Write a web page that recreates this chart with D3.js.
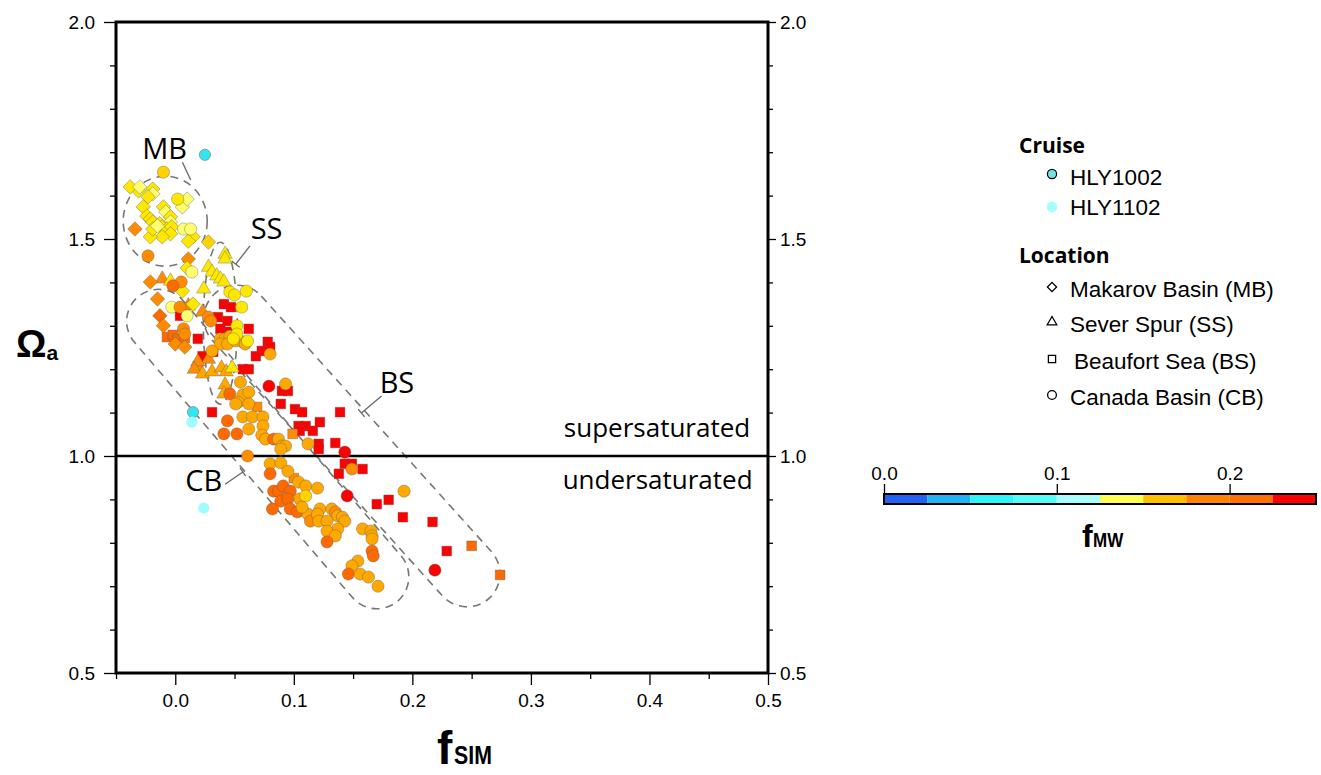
<!DOCTYPE html>
<html>
<head>
<meta charset="utf-8">
<script src="https://cdn.jsdelivr.net/npm/d3@7"></script>
<style>
body { margin: 0; background: #fff; }
text { font-family: "Liberation Sans", Arial, sans-serif; }
.axis path { display: none; }
.axis line { stroke: #000; stroke-width: 1.3; }
.axis text { font-size: 19px; fill: #000; }
.note { font-family: "Open Sans", "Noto Sans", sans-serif; }
</style>
</head>
<body>
<svg id="chart" width="1321" height="775"></svg>
<script>
// [fSIM, Omega_a, fMW]
var diamondPts = [
    [-0.031, 1.611, 0.14], [-0.019, 1.615, 0.14], [-0.019, 1.604, 0.12], [-0.023, 1.597, 0.14],
    [-0.027, 1.574, 0.14], [-0.024, 1.553, 0.14], [-0.021, 1.546, 0.14], [-0.019, 1.539, 0.14],
    [-0.010, 1.574, 0.14], [-0.008, 1.562, 0.12], [-0.004, 1.551, 0.14], [-0.004, 1.539, 0.12],
    [-0.013, 1.535, 0.14], [-0.011, 1.528, 0.14], [-0.007, 1.523, 0.14], [-0.003, 1.528, 0.14],
    [-0.004, 1.512, 0.14], [-0.011, 1.505, 0.14], [-0.021, 1.505, 0.14], [-0.019, 1.523, 0.14],
    [-0.015, 1.530, 0.12], [0.006, 1.574, 0.12], [0.010, 1.592, 0.12], [0.015, 1.505, 0.14],
    [0.011, 1.495, 0.14], [0.028, 1.493, 0.15], [-0.034, 1.523, 0.18], [0.011, 1.454, 0.18],
    [-0.038, 1.620, 0.14], [-0.030, 1.620, 0.12], [0.010, 1.433, 0.14], [-0.021, 1.401, 0.18],
    [0.006, 1.380, 0.14], [-0.015, 1.362, 0.18], [0.015, 1.350, 0.14], [-0.013, 1.323, 0.20],
    [-0.010, 1.300, 0.18], [0.000, 1.258, 0.18], [0.008, 1.251, 0.18]
];
var trianglePts = [
    [0.042, 1.465, 0.14], [0.042, 1.454, 0.14], [0.028, 1.435, 0.14], [0.031, 1.424, 0.14],
    [0.035, 1.415, 0.14], [0.038, 1.408, 0.14], [0.041, 1.401, 0.14], [0.024, 1.385, 0.14],
    [-0.011, 1.408, 0.18], [-0.004, 1.403, 0.14], [0.011, 1.346, 0.18], [0.023, 1.332, 0.18],
    [0.028, 1.223, 0.18], [0.019, 1.217, 0.18], [0.016, 1.200, 0.18], [0.023, 1.189, 0.165],
    [0.031, 1.194, 0.165], [0.039, 1.203, 0.165], [0.043, 1.194, 0.165], [0.048, 1.203, 0.14],
    [0.042, 1.164, 0.165], [0.041, 1.143, 0.165]
];
var squarePts = [
    [0.041, 1.350, 0.225], [0.047, 1.343, 0.225], [0.036, 1.320, 0.225], [0.044, 1.311, 0.225],
    [0.038, 1.293, 0.225], [0.046, 1.286, 0.225], [0.062, 1.293, 0.225], [0.004, 1.323, 0.225],
    [0.019, 1.270, 0.225], [0.023, 1.230, 0.225], [0.032, 1.240, 0.225], [0.078, 1.263, 0.225],
    [0.080, 1.251, 0.225], [0.073, 1.242, 0.225], [0.068, 1.230, 0.225], [0.057, 1.200, 0.225],
    [0.062, 1.200, 0.225], [0.090, 1.150, 0.225], [0.095, 1.150, 0.225], [0.089, 1.120, 0.225],
    [0.101, 1.108, 0.225], [0.107, 1.101, 0.225], [0.139, 1.101, 0.225], [0.031, 1.101, 0.225],
    [0.104, 1.069, 0.225], [0.110, 1.069, 0.225], [0.105, 1.058, 0.225], [0.116, 1.058, 0.225],
    [0.122, 1.078, 0.225], [0.121, 1.028, 0.225], [0.121, 1.016, 0.225], [0.135, 1.030, 0.225],
    [0.143, 0.982, 0.225], [0.149, 0.982, 0.225], [0.158, 0.970, 0.225], [0.138, 0.959, 0.225],
    [0.170, 0.889, 0.225], [0.180, 0.899, 0.225], [0.192, 0.859, 0.225], [0.217, 0.848, 0.225],
    [0.229, 0.781, 0.225],
    [-0.007, 1.274, 0.20], [-0.002, 1.279, 0.20], [0.002, 1.270, 0.20], [0.008, 1.272, 0.20],
    [0.019, 1.207, 0.18], [0.069, 1.113, 0.18], [0.099, 1.051, 0.18], [0.100, 0.949, 0.18],
    [0.250, 0.793, 0.20], [0.274, 0.726, 0.20]
];
var circlePts = [
    [-0.010, 1.654, 0.15], [0.002, 1.592, 0.14], [0.007, 1.523, 0.12], [0.013, 1.523, 0.12],
    [-0.023, 1.461, 0.18], [0.014, 1.424, 0.12], [0.005, 1.401, 0.18], [-0.002, 1.392, 0.20],
    [0.046, 1.378, 0.14], [0.050, 1.371, 0.14], [0.060, 1.380, 0.14], [-0.003, 1.343, 0.12],
    [0.004, 1.343, 0.18], [0.010, 1.323, 0.12], [0.028, 1.320, 0.18], [0.030, 1.311, 0.18],
    [0.056, 1.343, 0.14], [0.052, 1.300, 0.14], [0.007, 1.293, 0.18], [0.008, 1.281, 0.18],
    [0.038, 1.270, 0.165], [0.042, 1.270, 0.165], [0.046, 1.276, 0.165], [0.038, 1.258, 0.165],
    [0.044, 1.258, 0.165], [0.051, 1.265, 0.165], [0.057, 1.263, 0.165], [0.059, 1.258, 0.165],
    [0.052, 1.281, 0.14], [0.049, 1.270, 0.14], [0.061, 1.265, 0.14], [0.031, 1.242, 0.165],
    [0.080, 1.235, 0.165], [0.055, 1.170, 0.165], [0.079, 1.161, 0.225], [0.093, 1.166, 0.165],
    [0.046, 1.143, 0.20], [0.057, 1.141, 0.165], [0.062, 1.147, 0.165], [0.053, 1.124, 0.165],
    [0.062, 1.120, 0.165], [0.051, 1.120, 0.165], [0.044, 1.081, 0.20], [0.057, 1.090, 0.165],
    [0.065, 1.090, 0.165], [0.074, 1.090, 0.165], [0.074, 1.069, 0.165], [0.062, 1.062, 0.165],
    [0.052, 1.051, 0.20], [0.041, 1.051, 0.20], [0.073, 1.048, 0.165], [0.076, 1.039, 0.165],
    [0.083, 1.039, 0.20], [0.087, 1.039, 0.165], [0.090, 1.023, 0.165], [0.093, 1.023, 0.165],
    [0.089, 1.016, 0.165], [0.112, 1.028, 0.165], [0.143, 1.009, 0.225], [0.061, 1.000, 0.18],
    [0.080, 0.982, 0.165], [0.089, 0.984, 0.165], [0.095, 0.965, 0.165], [0.080, 0.959, 0.20],
    [0.149, 0.970, 0.18], [0.104, 0.940, 0.165], [0.110, 0.931, 0.165], [0.120, 0.926, 0.165],
    [0.083, 0.919, 0.20], [0.087, 0.919, 0.20], [0.091, 0.931, 0.20], [0.097, 0.919, 0.20],
    [0.105, 0.901, 0.165], [0.110, 0.908, 0.15], [0.089, 0.896, 0.20], [0.095, 0.901, 0.20],
    [0.082, 0.878, 0.20], [0.097, 0.878, 0.20], [0.103, 0.871, 0.20], [0.112, 0.866, 0.165],
    [0.107, 0.882, 0.165], [0.114, 0.850, 0.18], [0.122, 0.878, 0.165], [0.120, 0.866, 0.165],
    [0.121, 0.850, 0.165], [0.132, 0.878, 0.165], [0.135, 0.871, 0.18], [0.137, 0.862, 0.165],
    [0.141, 0.859, 0.165], [0.143, 0.850, 0.165], [0.128, 0.850, 0.165], [0.137, 0.832, 0.165],
    [0.128, 0.827, 0.165], [0.135, 0.816, 0.165], [0.128, 0.802, 0.20], [0.158, 0.832, 0.165],
    [0.165, 0.827, 0.165], [0.166, 0.816, 0.165], [0.166, 0.809, 0.165], [0.166, 0.781, 0.20],
    [0.167, 0.770, 0.20], [0.154, 0.758, 0.165], [0.149, 0.747, 0.165], [0.146, 0.728, 0.20],
    [0.156, 0.728, 0.165], [0.163, 0.721, 0.165], [0.171, 0.700, 0.165], [0.145, 0.908, 0.225],
    [0.193, 0.919, 0.165], [0.219, 0.737, 0.225]
];
// cruise-coloured points [fSIM, Omega_a]
var hly1002Pts = [[0.025, 1.694], [0.015, 1.101]];
var hly1102Pts = [[0.014, 1.078], [0.024, 0.880]];

var xMajor = [0.0, 0.1, 0.2, 0.3, 0.4, 0.5];
var xMinor = [-0.05, 0.05, 0.15, 0.25, 0.35, 0.45];
var yMajor = [0.5, 1.0, 1.5, 2.0];
var yMinor = [0.6, 0.7, 0.8, 0.9, 1.1, 1.2, 1.3, 1.4, 1.6, 1.7, 1.8, 1.9];

var fmwBins = [0, 0.025, 0.05, 0.075, 0.1, 0.125, 0.15, 0.175, 0.2, 0.225, 0.25];
var fmwBinColors = ["#2462f2", "#22b2f6", "#2ef6f8", "#55fcfa", "#a6feff",
                    "#ffff52", "#ffc000", "#ff8200", "#ff7000", "#ff0000"];
var fmwTicks = [0.0, 0.1, 0.2];

var cruiseNames = ["HLY1002", "HLY1102"];
var locationNames = ["Makarov Basin (MB)", "Sever Spur (SS)", "Beaufort Sea (BS)", "Canada Basin (CB)"];

var svg = d3.select("#chart");
var x = d3.scaleLinear().domain([-0.05, 0.5]).range([116, 768]);
var y = d3.scaleLinear().domain([0.5, 2.0]).range([673, 22]);

var pointColor = d3.scaleLinear()
    .domain([0.12, 0.14, 0.15, 0.165, 0.18, 0.20, 0.225])
    .range(["#ffff70", "#ffe800", "#ffd200", "#ffa800", "#ff8c00", "#ff6a00", "#ff0000"])
    .clamp(true);

// axes
function addAxis(gen, tx, ty) {
    return svg.append("g").attr("class", "axis")
        .attr("transform", "translate(" + tx + "," + ty + ")")
        .call(gen);
}
var fmt = d3.format(".1f");
addAxis(d3.axisBottom(x).tickValues(xMinor).tickSize(6).tickFormat(""), 0, 673);
addAxis(d3.axisBottom(x).tickValues(xMajor).tickSize(12).tickPadding(9).tickFormat(fmt), 0, 673);
addAxis(d3.axisLeft(y).tickValues(yMinor).tickSize(6).tickFormat(""), 116, 0);
addAxis(d3.axisLeft(y).tickValues(yMajor).tickSize(12).tickPadding(9).tickFormat(fmt), 116, 0);
addAxis(d3.axisRight(y).tickValues(yMinor).tickSize(5).tickFormat(""), 768, 0);
addAxis(d3.axisRight(y).tickValues(yMajor).tickSize(8).tickPadding(4).tickFormat(fmt), 768, 0);

// region outlines
var dash = {stroke: "#777", width: 1.6, array: "8,6"};
function ellipse(cx, cy, rx, ry) {
    svg.append("ellipse")
        .attr("cx", x(cx)).attr("cy", y(cy)).attr("rx", rx).attr("ry", ry)
        .attr("fill", "none").attr("stroke", dash.stroke)
        .attr("stroke-width", dash.width).attr("stroke-dasharray", dash.array);
}
function capsule(cx, cy, len, wid, angle) {
    svg.append("rect")
        .attr("x", -len / 2).attr("y", -wid / 2)
        .attr("width", len).attr("height", wid)
        .attr("rx", wid / 2).attr("ry", wid / 2)
        .attr("transform", "translate(" + x(cx) + "," + y(cy) + ") rotate(" + angle + ")")
        .attr("fill", "none").attr("stroke", dash.stroke)
        .attr("stroke-width", dash.width).attr("stroke-dasharray", dash.array);
}
ellipse(-0.0085, 1.541, 42, 45);
ellipse(0.038, 1.306, 17, 81);
capsule(0.078, 1.016, 400, 64, 49.5);
capsule(0.149, 1.023, 410, 66, 48);

// saturation line
svg.append("line")
    .attr("x1", x(-0.05)).attr("x2", x(0.5)).attr("y1", y(1)).attr("y2", y(1))
    .attr("stroke", "#000").attr("stroke-width", 2.6);
svg.append("text").attr("class", "note")
    .attr("x", x(0.485)).attr("y", y(1) - 19)
    .attr("text-anchor", "end").style("font-size", "26px")
    .text("supersaturated");
svg.append("text").attr("class", "note")
    .attr("x", x(0.487)).attr("y", y(1) + 33)
    .attr("text-anchor", "end").style("font-size", "26px")
    .text("undersaturated");

// points
var pointStroke = "rgba(90,90,90,0.55)";
function drawSymbols(data, type, size, rotate) {
    var sym = d3.symbol().type(type).size(size);
    svg.append("g").selectAll("path")
        .data(data).enter().append("path")
        .attr("d", sym)
        .attr("transform", function(d) {
            return "translate(" + x(d[0]) + "," + y(d[1]) + ")" + (rotate ? " rotate(" + rotate + ")" : "");
        })
        .attr("fill", function(d) { return pointColor(d[2]); })
        .attr("stroke", pointStroke).attr("stroke-width", 0.7);
}
drawSymbols(squarePts, d3.symbolSquare, 95);
drawSymbols(trianglePts, d3.symbolTriangle, 88);
drawSymbols(diamondPts, d3.symbolSquare, 105, 45);
svg.append("g").selectAll("circle")
    .data(circlePts).enter().append("circle")
    .attr("cx", function(d) { return x(d[0]); })
    .attr("cy", function(d) { return y(d[1]); })
    .attr("r", 6.1)
    .attr("fill", function(d) { return pointColor(d[2]); })
    .attr("stroke", pointStroke).attr("stroke-width", 0.7);
svg.append("g").selectAll("circle")
    .data(hly1002Pts).enter().append("circle")
    .attr("cx", function(d) { return x(d[0]); })
    .attr("cy", function(d) { return y(d[1]); })
    .attr("r", 5.6).attr("fill", "#30e6f0")
    .attr("stroke", "#8a8a8a").attr("stroke-width", 0.8);
svg.append("g").selectAll("circle")
    .data(hly1102Pts).enter().append("circle")
    .attr("cx", function(d) { return x(d[0]); })
    .attr("cy", function(d) { return y(d[1]); })
    .attr("r", 5.6).attr("fill", "#9ffcff");

// region labels with leaders
var labels = [
    {t: "MB", at: [-0.009, 1.684], from: [0.006, 1.677], to: [0.013, 1.636], tee: false},
    {t: "SS", at: [0.077, 1.500], from: [0.063, 1.484], to: [0.051, 1.442], tee: true},
    {t: "BS", at: [0.187, 1.145], from: [0.174, 1.138], to: [0.157, 1.099], tee: true},
    {t: "CB", at: [0.024, 0.919], from: [0.042, 0.935], to: [0.057, 0.963], tee: true}
];
labels.forEach(function(l) {
    svg.append("text").attr("class", "note")
        .attr("x", x(l.at[0])).attr("y", y(l.at[1]))
        .attr("text-anchor", "middle").style("font-size", "29px")
        .text(l.t);
    var x1 = x(l.from[0]), y1 = y(l.from[1]), x2 = x(l.to[0]), y2 = y(l.to[1]);
    svg.append("line").attr("x1", x1).attr("y1", y1).attr("x2", x2).attr("y2", y2)
        .attr("stroke", "#666").attr("stroke-width", 1.3);
    if (l.tee) {
        var dx = x2 - x1, dy = y2 - y1, n = Math.sqrt(dx * dx + dy * dy);
        var px = -dy / n * 5, py = dx / n * 5;
        svg.append("line")
            .attr("x1", x2 - px).attr("y1", y2 - py).attr("x2", x2 + px).attr("y2", y2 + py)
            .attr("stroke", "#666").attr("stroke-width", 1.3);
    }
});

// frame
svg.append("rect")
    .attr("x", 116).attr("y", 22).attr("width", 652).attr("height", 651)
    .attr("fill", "none").attr("stroke", "#000").attr("stroke-width", 3);

// axis titles
var yt = svg.append("text").attr("x", 16).attr("y", 357).style("font-weight", "bold");
yt.append("tspan").style("font-size", "38px").text("\u03A9");
yt.append("tspan").style("font-size", "21px").attr("dy", 3).text("a");

svg.append("text").attr("x", 437).attr("y", 764)
    .style("font-weight", "bold").style("font-size", "46px").text("f");
svg.append("text").attr("transform", "translate(454,764) scale(0.82,1)")
    .style("font-weight", "bold").style("font-size", "26px").text("SIM");

// legend
var lg = svg.append("g");
lg.append("text").attr("class", "note").attr("x", 1019).attr("y", 153)
    .style("font-weight", "bold").style("font-size", "21px").text("Cruise");
lg.append("circle").attr("cx", 1052).attr("cy", 174).attr("r", 4.6)
    .attr("fill", "#70e2e4").attr("stroke", "#000").attr("stroke-width", 1.2);
lg.append("circle").attr("cx", 1052).attr("cy", 207).attr("r", 5.4)
    .attr("fill", "#a8feff");
cruiseNames.forEach(function(n, i) {
    lg.append("text").attr("x", 1070).attr("y", 185 + i * 30)
        .style("font-size", "22.5px").text(n);
});
lg.append("text").attr("class", "note").attr("x", 1019).attr("y", 263)
    .style("font-weight", "bold").style("font-size", "21px").text("Location");
var legendSyms = [
    d3.symbol().type(d3.symbolSquare).size(42),
    d3.symbol().type(d3.symbolTriangle).size(40),
    d3.symbol().type(d3.symbolSquare).size(52),
    d3.symbol().type(d3.symbolCircle).size(60)
];
var legendY = [297, 332, 369, 405];
locationNames.forEach(function(n, i) {
    lg.append("path").attr("d", legendSyms[i])
        .attr("transform", "translate(1052," + (legendY[i] - 10) + ")" + (i === 0 ? " rotate(45)" : ""))
        .attr("fill", "#fff").attr("stroke", "#000").attr("stroke-width", 1.3);
    lg.append("text").attr("x", i === 2 ? 1074 : 1070).attr("y", legendY[i])
        .style("font-size", "22.5px").text(n);
});

// fMW colour bar
var cb = d3.scaleLinear().domain([0, 0.25]).range([884, 1316]);
svg.append("g").selectAll("rect")
    .data(fmwBinColors).enter().append("rect")
    .attr("x", function(d, i) { return cb(fmwBins[i]); })
    .attr("width", function(d, i) { return cb(fmwBins[i + 1]) - cb(fmwBins[i]); })
    .attr("y", 494).attr("height", 10)
    .attr("fill", function(d) { return d; });
svg.append("rect").attr("x", 884).attr("y", 494).attr("width", 432).attr("height", 10)
    .attr("fill", "none").attr("stroke", "#000").attr("stroke-width", 2);
svg.append("g").attr("class", "axis").attr("transform", "translate(0,494)")
    .call(d3.axisTop(cb).tickValues(fmwTicks).tickSize(10).tickPadding(4).tickFormat(fmt));

svg.append("text").attr("x", 1082).attr("y", 547)
    .style("font-weight", "bold").style("font-size", "32px").text("f");
svg.append("text").attr("transform", "translate(1093,547) scale(0.85,1)")
    .style("font-weight", "bold").style("font-size", "20px").text("MW");
</script>
</body>
</html>
